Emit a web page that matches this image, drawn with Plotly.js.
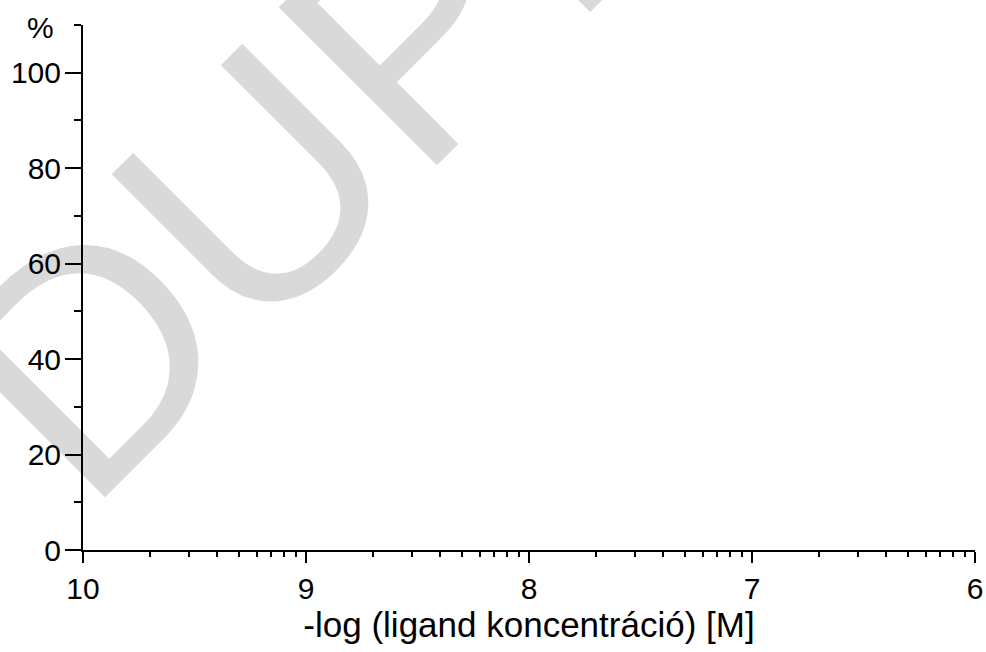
<!DOCTYPE html>
<html>
<head>
<meta charset="utf-8">
<script src="https://cdn.plot.ly/plotly-3.0.1.min.js"></script>
<style>html,body{margin:0;padding:0;background:#fff;}#chart{width:986px;height:652px;}</style>
</head>
<body>
<div id="chart"></div>
<script>
// Axis definitions (no data series are plotted)
const xMajorTicks = [10, 9, 8, 7, 6];
const xTickLabels = ['10', '9', '8', '7', '6'];
const decadeMultipliers = [2, 3, 4, 5, 6, 7, 8, 9];
const yMajorTicks = [0, 20, 40, 60, 80, 100];
const yTickLabels = ['0', '20', '40', '60', '80', '100'];
const xRange = [10, 6];
const yRange = [0, 110];
const xTitle = '-log (ligand koncentráció) [M]';
const yUnit = '%';
const watermarkText = 'DUPLIKÁTUM';

// minor ticks: logarithmic subdivisions within each unit of -log(c)
const xMinorTicks = [];
for (let d = 10; d > 6; d--) {
  decadeMultipliers.forEach(k => xMinorTicks.push(d - Math.log10(k)));
}

const FONT = 'Arial, "Liberation Sans", sans-serif';

const traces = [{
  x: [], y: [], type: 'scatter', mode: 'lines', showlegend: false, hoverinfo: 'skip'
}];

const wmX = 89 + 24, wmY = 516 + 27;

const layout = {
  width: 986, height: 652, autosize: false,
  margin: {l: 83, r: 11, t: 25, b: 102, pad: 0},
  paper_bgcolor: '#ffffff', plot_bgcolor: '#ffffff',
  font: {family: FONT, size: 30, color: '#000'},
  showlegend: false,
  xaxis: {
    range: xRange, showgrid: false, zeroline: false,
    showline: true, linecolor: '#000', linewidth: 2,
    ticks: 'outside', ticklen: 11, tickwidth: 2, tickcolor: '#000',
    tickmode: 'array', tickvals: xMajorTicks, ticktext: xTickLabels,
    tickfont: {family: FONT, size: 30, color: '#000'},
    ticklabelstandoff: 0,
    minor: {ticks: 'outside', tickmode: 'array', tickvals: xMinorTicks, ticklen: 5, tickwidth: 2, tickcolor: '#000', showgrid: false},
    title: {text: xTitle, font: {family: FONT, size: 35, color: '#000'}, standoff: 7},
    fixedrange: true
  },
  yaxis: {
    range: yRange, showgrid: false, zeroline: false,
    showline: true, linecolor: '#000', linewidth: 2,
    ticks: 'outside', ticklen: 16, tickwidth: 2, tickcolor: '#000',
    tickmode: 'array', tickvals: yMajorTicks, ticktext: yTickLabels,
    tickfont: {family: FONT, size: 30, color: '#000'},
    ticklabelstandoff: -2,
    minor: {ticks: 'outside', dtick: 10, tick0: 0, ticklen: 7, tickwidth: 2, tickcolor: '#000', showgrid: false},
    fixedrange: true
  },
  annotations: [{
    text: yUnit, xref: 'paper', yref: 'paper',
    x: (40 - 83) / 892, y: (550 - 27) / 525,
    xanchor: 'center', yanchor: 'middle', showarrow: false,
    font: {family: FONT, size: 30, color: '#000'}
  }],
  shapes: [{
    type: 'line', xref: 'paper', yref: 'paper', layer: 'below',
    x0: (wmX - 83) / 892, x1: (wmX - 83) / 892,
    y0: (550 - wmY) / 525, y1: (550 - wmY) / 525,
    line: {width: 0, color: 'rgba(0,0,0,0)'},
    label: {
      text: watermarkText, textangle: -45, textposition: 'start',
      xanchor: 'left', yanchor: 'bottom', padding: 0,
      font: {family: FONT, size: 325, color: 'rgb(217,217,217)'}
    }
  }]
};

Plotly.newPlot('chart', traces, layout, {staticPlot: true, displayModeBar: false});
</script>
</body>
</html>
